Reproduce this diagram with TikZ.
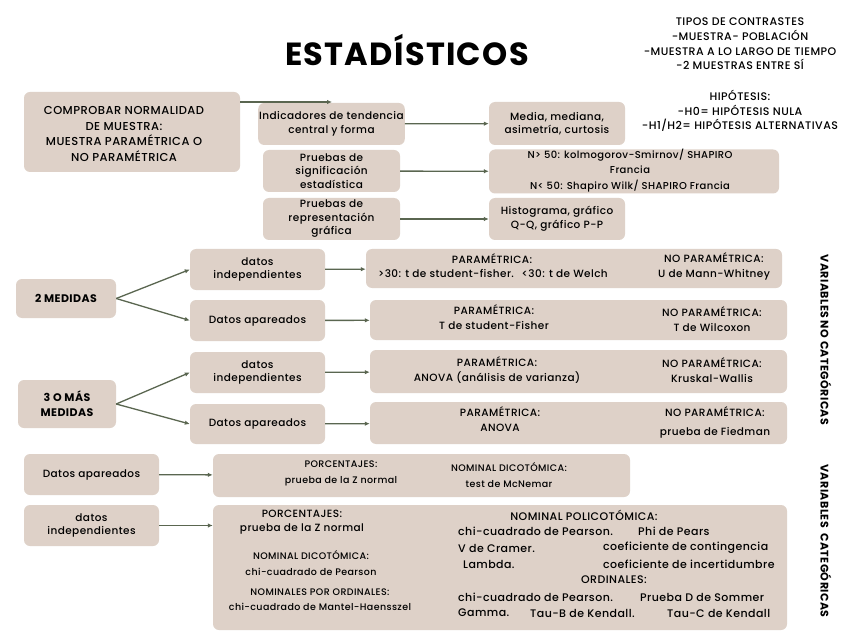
\documentclass[tikz,border=0pt]{standalone}
\usepackage{fontspec}
\setmainfont{Poppins}[UprightFont={* Medium}, BoldFont={* Bold}, LetterSpace=4]
\usetikzlibrary{arrows.meta,positioning}
\definecolor{boxfill}{RGB}{222,209,200}
\definecolor{arrcol}{RGB}{90,102,80}

\begin{document}
\begin{tikzpicture}[x=1pt, y=-1pt,
  box/.style={fill=boxfill, rounded corners=6pt, align=center, font=\fontsize{10.5}{13.5}\selectfont, inner sep=1pt},
  res/.style={fill=boxfill, rounded corners=6pt, inner sep=0pt},
  lbl/.style={align=center, font=\fontsize{10.5}{15}\selectfont, inner sep=1pt},
  sml/.style={align=center, font=\fontsize{9.5}{15.5}\selectfont, inner sep=1pt},
  txt/.style={anchor=west, font=\fontsize{11}{12}\selectfont, inner sep=1pt},
  side/.style={rotate=-90, font=\fontsize{11}{12}\selectfont\bfseries, inner sep=1pt},
  arr/.style={-{Latex[length=5pt,width=4.5pt]}, arrcol, line width=1.3pt}
]
\useasboundingbox[fill=white] (0,0) rectangle (848,636);

% titulo y notas
\node (title) at (407,50) {\fontsize{32}{34}\selectfont\bfseries ESTADÍSTICOS};
\node[lbl, font=\fontsize{11}{14.7}\selectfont] (tipos) at (740,44) {TIPOS DE CONTRASTES\\-MUESTRA- POBLACIÓN\\-MUESTRA A LO LARGO DE TIEMPO\\-2 MUESTRAS ENTRE SÍ};
\node[lbl, font=\fontsize{11}{14.7}\selectfont] (hipo) at (740,111) {HIPÓTESIS:\\-H0= HIPÓTESIS NULA\\-H1/H2= HIPÓTESIS ALTERNATIVAS};

% normalidad
\node[res, minimum width=216, minimum height=80] (comp) at (132,132) {};
\node[box, fill=none, font=\fontsize{11.5}{15.5}\selectfont] (compt) at (124,134) {COMPROBAR NORMALIDAD\\DE MUESTRA:\\MUESTRA PARAMÉTRICA O\\NO PARAMÉTRICA};
\node[box, minimum width=137, minimum height=42] (ind) at (331.5,124) {Indicadores de tendencia\\central y forma};
\node[box, minimum width=137, minimum height=42] (sig) at (331.5,171) {Pruebas de\\significación\\estadística};
\node[box, minimum width=137, minimum height=42] (rep) at (331.5,219) {Pruebas de\\representación\\gráfica};
\node[box, minimum width=136, minimum height=43] (media) at (557,123.5) {Media, mediana,\\asimetría, curtosis};
\node[res, minimum width=290, minimum height=44] (norm) at (634,171.5) {};
\node[box, fill=none, font=\fontsize{10}{15.5}\selectfont] (normt) at (630,170.5) {N> 50: kolmogorov-Smirnov/ SHAPIRO\\Francia\\N< 50: Shapiro Wilk/ SHAPIRO Francia};
\node[box, minimum width=136, minimum height=42] (hist) at (557,219) {Histograma, gráfico\\Q-Q, gráfico P-P};
\coordinate (indtip) at (332,102);
\draw[arr] (comp.east |- indtip) -- (indtip);
\draw[arr] (ind) -- (media);
\draw[arr] (sig) -- (norm);
\draw[arr] (rep) -- (hist);

% variables no categoricas
\node[box, minimum width=100, minimum height=39, font=\fontsize{11}{15}\selectfont\bfseries] (dos) at (66,298.5) {2 MEDIDAS};
\node[box, minimum width=135, minimum height=41] (indA) at (257.5,269.5) {datos\\independientes};
\node[box, minimum width=135, minimum height=41] (apaA) at (257.5,320.5) {Datos apareados};
\node[box, minimum width=98, minimum height=48, font=\fontsize{11}{15}\selectfont\bfseries] (tres) at (67,404) {3 O MÁS\\MEDIDAS};
\node[box, minimum width=135, minimum height=41] (indB) at (257.5,372.5) {datos\\independientes};
\node[box, minimum width=135, minimum height=40] (apaB) at (257.5,424) {Datos apareados};

\node[res, minimum width=416, minimum height=39] (resA) at (574,268.5) {};
\node[res, minimum width=417, minimum height=40] (resB) at (578.5,320) {};
\node[res, minimum width=417, minimum height=43] (resC) at (578.5,371.5) {};
\node[res, minimum width=417, minimum height=42] (resD) at (578.5,423) {};

\node[lbl] (pA) at (492,259) {PARAMÉTRICA:};
\node[lbl, anchor=west] (pA1) at (377,273.5) {>30: t de student-fisher.};
\node[lbl, anchor=east] (pA2) at (609,273.5) {<30: t de Welch};
\node[lbl] (nA) at (714,266) {NO PARAMÉTRICA:\\U de Mann-Whitney};
\node[lbl] (pB) at (494,317.5) {PARAMÉTRICA:\\T de student-Fisher};
\node[lbl] (nB) at (712,319) {NO PARAMÉTRICA:\\T de Wilcoxon};
\node[lbl] (pC) at (497,370) {PARAMÉTRICA:\\ANOVA (análisis de varianza)};
\node[lbl] (nC) at (712,370) {NO PARAMÉTRICA:\\Kruskal-Wallis};
\node[lbl] (pD) at (500,419.5) {PARAMÉTRICA:\\ANOVA};
\node[lbl, font=\fontsize{10.5}{19}\selectfont] (nD) at (715,422.5) {NO PARAMÉTRICA:\\prueba de Fiedman};

\draw[arr] (dos.east) -- (indA.west);
\draw[arr] (dos.east) -- (apaA.west);
\draw[arr] (tres.east) -- (indB.west);
\draw[arr] (tres.east) -- (apaB.west);
\draw[arr] (indA) -- (resA);
\draw[arr] (apaA) -- (resB);
\draw[arr] (indB) -- (resC);
\draw[arr] (apaB) -- (resD);

\node[side] (vnc) at (826,340) {VARIABLES NO CATEGÓRICAS};

% variables categoricas
\node[box, minimum width=135, minimum height=41] (apaC) at (91.5,474.5) {Datos apareados};
\node[box, minimum width=135, minimum height=41] (indC) at (91.5,525.5) {datos\\independientes};
\node[res, minimum width=417, minimum height=43] (resE) at (421.5,475.5) {};
\node[res, minimum width=574, minimum height=125] (resF) at (500,567.5) {};
\draw[arr] (apaC) -- (resE);
\draw[arr] (indC) -- (resF.west |- indC);

\node[sml, font=\fontsize{9.5}{16.5}\selectfont] (pE) at (341,473.5) {PORCENTAJES:\\prueba de la Z normal};
\node[sml, font=\fontsize{9.5}{16.5}\selectfont] (nE) at (509,475) {NOMINAL DICOTÓMICA:\\test de McNemar};

\node[lbl, font=\fontsize{10.5}{14}\selectfont] (pF) at (302,522) {PORCENTAJES:\\prueba de la Z normal};
\node[sml] (dF) at (311,563) {NOMINAL DICOTÓMICA:\\chi-cuadrado de Pearson};
\node[sml] (oF) at (320,599.5) {NOMINALES POR ORDINALES:\\chi-cuadrado de Mantel-Haensszel};

\node[lbl, font=\fontsize{11}{12}\selectfont] (polt) at (584,515) {NOMINAL POLICOTÓMICA:};
\node[txt] (pol1) at (457,531) {chi-cuadrado de Pearson.};
\node[txt] (pol1b) at (637,531) {Phi de Pears};
\node[txt] (pol2) at (457,548) {V de Cramer.};
\node[txt] (pol3) at (602,548) {coeficiente de contingencia};
\node[txt] (pol4) at (462,564) {Lambda.};
\node[txt] (pol5) at (602,564) {coeficiente de incertidumbre};
\node[lbl, font=\fontsize{11}{12}\selectfont] (ordt) at (614,580) {ORDINALES:};
\node[txt] (ord1) at (457,597) {chi-cuadrado de Pearson.};
\node[txt] (ord1b) at (639,597) {Prueba D de Sommer};
\node[txt] (ord2) at (457,613) {Gamma.};
\node[txt] (ord2b) at (529,613) {Tau-B de Kendall.};
\node[txt] (ord2c) at (666,613) {Tau-C de Kendall};

\node[side] (vc) at (826,541) {VARIABLES\ \ CATEGÓRICAS};
\end{tikzpicture}
\end{document}
